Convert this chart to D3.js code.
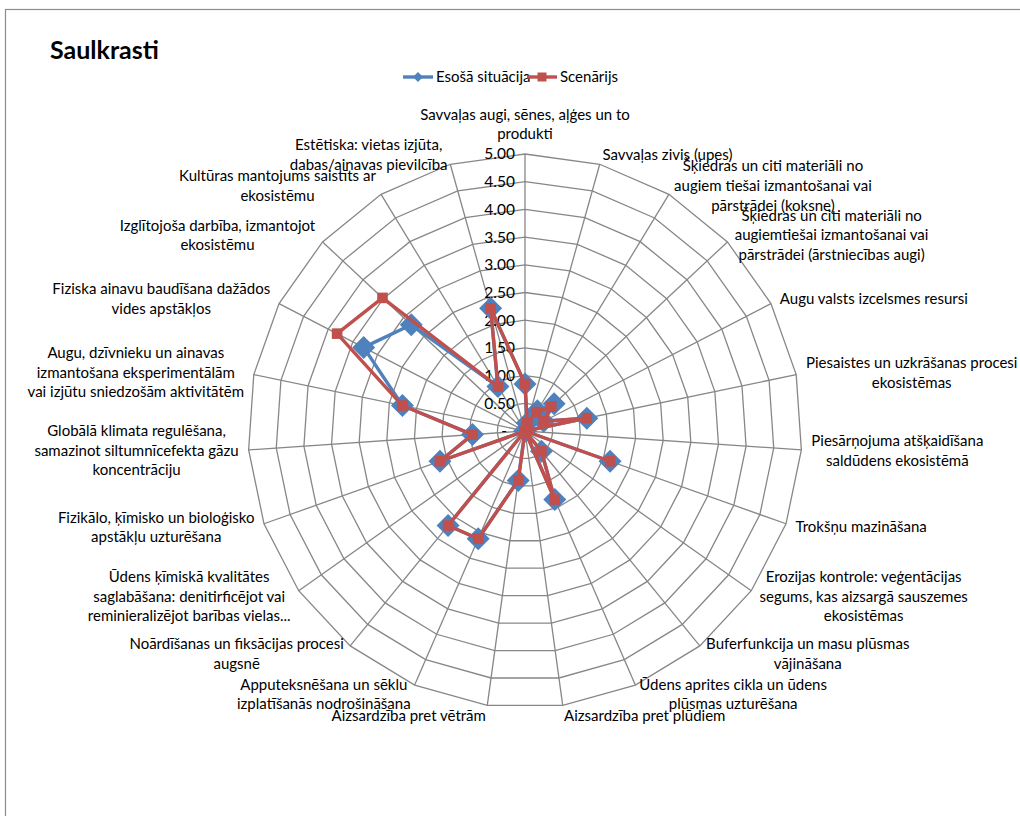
<!DOCTYPE html>
<html>
<head>
<meta charset="utf-8">
<script src="https://cdn.jsdelivr.net/npm/d3@7"></script>
<style>
  body { margin: 0; background: #fff; }
  text { font-family: Lato, "Noto Sans", sans-serif; fill: #000; }
</style>
</head>
<body>
<svg id="chart" width="1020" height="816"></svg>
<script>
// Ecosystem service categories (line breaks mark label wrapping)
const categories = [
  "Savvaļas augi, sēnes, aļģes un to\nprodukti",
  "Savvaļas zivis (upes)",
  "Šķiedras un citi materiāli no\naugiem tiešai izmantošanai vai\npārstrādei (koksne)",
  "Šķiedras un citi materiāli no\naugiemtiešai izmantošanai vai\npārstrādei (ārstniecības augi)",
  "Augu valsts izcelsmes resursi",
  "Piesaistes un uzkrāšanas procesi\nekosistēmas",
  "Piesārņojuma atšķaidīšana\nsaldūdens ekosistēmā",
  "Trokšņu mazināšana",
  "Erozijas kontrole: veģentācijas\nsegums, kas aizsargā sauszemes\nekosistēmas",
  "Buferfunkcija un masu plūsmas\nvājināšana",
  "Ūdens aprites cikla un ūdens\nplūsmas uzturēšana",
  "Aizsardzība pret plūdiem",
  "Aizsardzība pret vētrām",
  "Apputeksnēšana un sēklu\nizplatīšanās nodrošināšana",
  "Noārdīšanas un fiksācijas procesi\naugsnē",
  "Ūdens ķīmiskā kvalitātes\nsaglabāšana: denitirficējot vai\nreminieralizējot barības vielas...",
  "Fizikālo, ķīmisko un bioloģisko\napstākļu uzturēšana",
  "Globālā klimata regulēšana,\nsamazinot siltumnīcefekta gāzu\nkoncentrāciju",
  "Augu, dzīvnieku un ainavas\nizmantošana  eksperimentālām\nvai izjūtu sniedzošām aktivitātēm",
  "Fiziska ainavu baudīšana dažādos\nvides apstākļos",
  "Izglītojoša darbība, izmantojot\nekosistēmu",
  "Kultūras mantojums saistīts ar\nekosistēmu",
  "Estētiska: vietas izjūta,\ndabas/ainavas pievilcība"
];

const seriesNames = ["Esošā situācija", "Scenārijs"];

const esosa = [0.85, 0.15, 0.43, 0.72, 0.38, 1.14, 0, 1.63, 0, 0.47, 1.35, 0,
               0.9, 2.12, 2.2, 0, 1.63, 0.95, 2.26, 3.28, 2.81, 0.94, 2.3];

const scenarijs = [0.85, 0.15, 0.4, 0.65, 0.38, 1.14, 0, 1.63, 0, 0.47, 1.35, 0,
                   0.9, 2.12, 2.2, 0, 1.63, 0.95, 2.26, 3.82, 3.52, 0.94, 2.3];

const tickValues = [0, 0.5, 1, 1.5, 2, 2.5, 3, 3.5, 4, 4.5, 5];
const tickLabels = ["-", "0.50", "1.00", "1.50", "2.00", "2.50", "3.00", "3.50", "4.00", "4.50", "5.00"];

const colors = ["#4F81BD", "#C0504D"];

const svg = d3.select("#chart");
const cx = 525, cy = 431, R = 277;

svg.append("rect").attr("width", 1020).attr("height", 816).attr("fill", "#fff");
// chart frame (left and top edges visible)
svg.append("rect")
  .attr("x", 5.5).attr("y", 9.5).attr("width", 1100).attr("height", 900)
  .attr("fill", "none").attr("stroke", "#8c8c8c").attr("stroke-width", 1.2);

const n = categories.length;
const angle = d3.scaleLinear().domain([0, n]).range([0, 2 * Math.PI]);
const r = d3.scaleLinear().domain([0, 5]).range([0, R]);
const pt = (i, v) => [cx + r(v) * Math.sin(angle(i)), cy - r(v) * Math.cos(angle(i))];

const grid = svg.append("g").attr("stroke", "#878787").attr("stroke-width", 1.3).attr("fill", "none");

// polygon rings
grid.selectAll("path.ring")
  .data(tickValues.filter(t => t > 0))
  .join("path")
  .attr("class", "ring")
  .attr("d", t => d3.line().curve(d3.curveLinearClosed)(d3.range(n).map(i => pt(i, t))));

// spokes
grid.selectAll("line.spoke")
  .data(d3.range(n))
  .join("line")
  .attr("class", "spoke")
  .attr("x1", cx).attr("y1", cy)
  .attr("x2", i => pt(i, 5)[0]).attr("y2", i => pt(i, 5)[1]);

// value axis labels
svg.append("g").selectAll("text")
  .data(tickValues.map((v, k) => ({ v, label: tickLabels[k] })))
  .join("text")
  .attr("x", cx - 10)
  .attr("dx", d => d.v === 0 ? -8 : 0)
  .attr("y", d => cy - r(d.v))
  .attr("dy", "0.35em")
  .attr("text-anchor", "end")
  .attr("font-size", 15.5)
  .text(d => d.label);

// category labels placed just outside each spoke
const lineH = 19.6;
const labelG = svg.append("g").attr("font-size", 15);
categories.forEach((c, i) => {
  const lines = c.split("\n");
  const s = Math.sin(angle(i)), co = Math.cos(angle(i));
  const end = pt(i, 5);
  const px = end[0] + 10 * s, py = end[1] - 10 * co;
  const g = labelG.append("g");
  const texts = lines.map(l => g.append("text").attr("text-anchor", "middle").attr("dy", "0.35em").text(l));
  const w = d3.max(texts, t => t.node().getComputedTextLength());
  const h = lines.length * lineH;
  let left, top;
  if (s > 0.05) left = px; else if (s < -0.05) left = px - w; else left = px - w / 2;
  if (Math.abs(s) <= 0.05) top = co > 0 ? py - h : py; else top = py - h / 2;
  texts.forEach((t, k) => t.attr("x", left + w / 2).attr("y", top + lineH * (k + 0.5)));
});

// series
const lineGen = d3.line().curve(d3.curveLinearClosed);
const diamond = s => `M0,${-s}L${s},0L0,${s}L${-s},0Z`;

[esosa, scenarijs].forEach((vals, si) => {
  const g = svg.append("g");
  g.append("path")
    .attr("d", lineGen(vals.map((v, i) => pt(i, v))))
    .attr("fill", "none")
    .attr("stroke", colors[si])
    .attr("stroke-width", 3.4)
    .attr("stroke-linejoin", "round");
  const m = g.selectAll("path.m")
    .data(vals.map((v, i) => pt(i, v)))
    .join("path")
    .attr("class", "m")
    .attr("transform", p => `translate(${p[0]},${p[1]})`)
    .attr("fill", colors[si]);
  if (si === 0) m.attr("d", diamond(11.5));
  else m.attr("d", "M-5.3,-5.3H5.3V5.3H-5.3Z");
});

// title
svg.append("text")
  .attr("x", 50).attr("y", 59)
  .attr("font-size", 25).attr("font-weight", "bold")
  .text("Saulkrasti");

// legend
const legend = svg.append("g").attr("font-size", 15);
const legendX = [403, 527];
seriesNames.forEach((name, si) => {
  const x0 = legendX[si], y0 = 77;
  legend.append("line")
    .attr("x1", x0).attr("x2", x0 + 30).attr("y1", y0).attr("y2", y0)
    .attr("stroke", colors[si]).attr("stroke-width", 3.4);
  legend.append("path")
    .attr("transform", `translate(${x0 + 15},${y0})`)
    .attr("d", si === 0 ? diamond(5) : "M-4.5,-4.5H4.5V4.5H-4.5Z")
    .attr("fill", colors[si]);
  legend.append("text")
    .attr("x", x0 + 33).attr("y", y0).attr("dy", "0.35em")
    .text(name);
});
</script>
</body>
</html>
